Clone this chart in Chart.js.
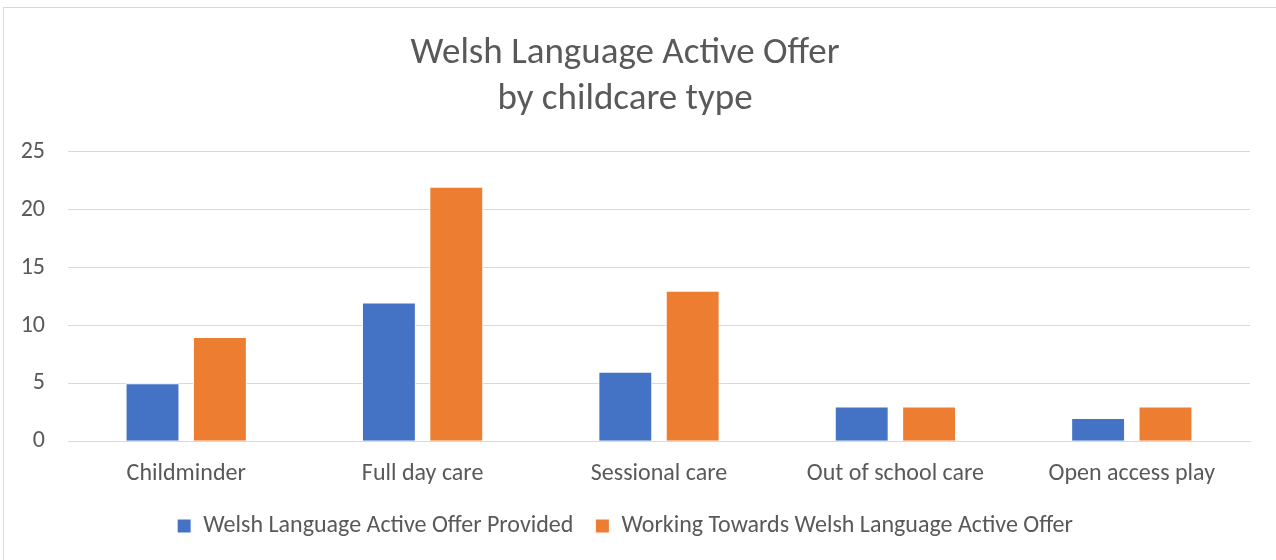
<!DOCTYPE html>
<html>
<head>
<meta charset="utf-8">
<script src="https://cdn.jsdelivr.net/npm/chart.js@4"></script>
<style>
  html, body { margin: 0; padding: 0; background: #fff; overflow: hidden; }
  #frame { position: absolute; left: 3px; top: 7px; width: 1300px; height: 600px; border: 1px solid #d9d9d9; }
  #wrap { position: absolute; left: 0; top: 0; width: 1276px; height: 560px; }
</style>
</head>
<body>
<div id="frame"></div>
<div id="wrap"><canvas id="welshChart" width="1276" height="560"></canvas></div>
<script>
var categories = ['Childminder', 'Full day care', 'Sessional care', 'Out of school care', 'Open access play'];
var providedValues = [5, 12, 6, 3, 2];
var workingValues = [9, 22, 13, 3, 3];
var yTicks = [0, 5, 10, 15, 20, 25];

var fontFamily = "Carlito, Calibri, Lato, 'Open Sans', sans-serif";
var textColor = '#595959';

var chart;

function renderChart(id) {
	chart = document.getElementById(id);

	var options = {
		type: 'bar',
		data: {
			labels: categories,
			datasets: [{
				label: 'Welsh Language Active Offer Provided',
				data: providedValues,
				backgroundColor: '#4472C4',
				borderColor: '#ffffff',
				borderWidth: 1,
				categoryPercentage: 0.57,
				barPercentage: 0.8
			}, {
				label: 'Working Towards Welsh Language Active Offer',
				data: workingValues,
				backgroundColor: '#ED7D31',
				borderColor: '#ffffff',
				borderWidth: 1,
				categoryPercentage: 0.57,
				barPercentage: 0.8
			}]
		},
		options: {
			responsive: false,
			animation: false,
			layout: { padding: { left: 0, right: 26, top: 31, bottom: 12 } },
			scales: {
				x: {
					grid: { display: false },
					border: { color: '#d9d9d9' },
					afterFit: function(axis) { axis.height -= 6; },
					ticks: { color: textColor, font: { family: fontFamily, size: 24 }, padding: 10 }
				},
				y: {
					min: 0,
					max: 25,
					afterBuildTicks: function(axis) {
						axis.ticks = yTicks.map(function(v) { return { value: v }; });
					},
					afterFit: function(axis) { axis.width = 68; },
					grid: { color: '#d9d9d9', drawTicks: false },
					border: { display: false },
					ticks: { color: textColor, font: { family: fontFamily, size: 24 }, padding: 23 }
				}
			},
			plugins: {
				title: {
					display: true,
					text: ['Welsh Language Active Offer', 'by childcare type'],
					color: textColor,
					font: { family: fontFamily, size: 37, weight: 'normal', lineHeight: 1.243 },
					padding: { top: 0, bottom: 29 }
				},
				legend: {
					position: 'bottom',
					labels: {
						color: textColor,
						font: { family: fontFamily, size: 24 },
						boxWidth: 14,
						boxHeight: 14,
						padding: 22
					}
				},
				tooltip: { enabled: false }
			}
		}
	};

	new Chart(chart, options);
}

renderChart('welshChart');
</script>
</body>
</html>
